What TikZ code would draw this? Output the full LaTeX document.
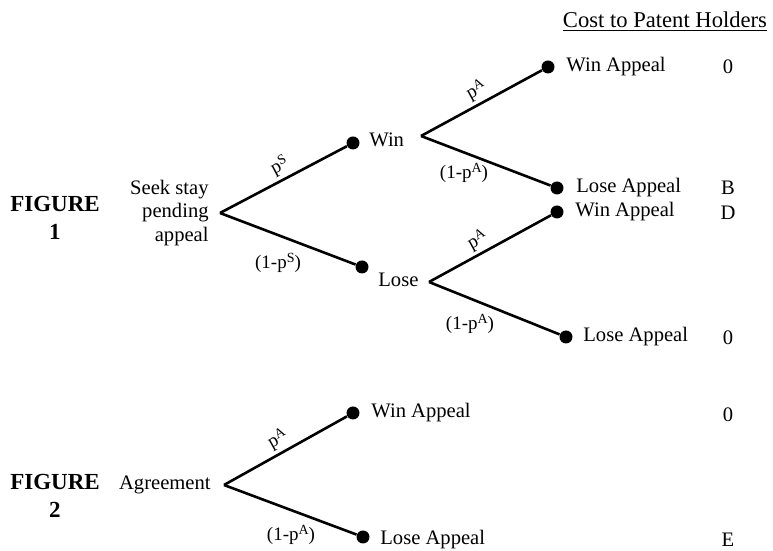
\documentclass[tikz,border=0pt]{standalone}
\usepackage{fontspec}
\setmainfont{Liberation Serif}
\usepackage{tikz}
\usetikzlibrary{positioning,calc}
\newcommand{\upidx}[1]{\raisebox{0.6ex}{\fontsize{7}{8}\selectfont #1}}

\begin{document}
\begin{tikzpicture}[x=0.5pt,y=0.5pt,
    every node/.style={font=\fontsize{10.3}{11.8}\selectfont},
    dot/.style={circle,fill=black,inner sep=0pt,minimum size=6.5pt},
    branch/.style={line width=1.3pt},
    prob/.style={font=\fontsize{9.5}{11}\selectfont,inner sep=1.5pt},
    outcome/.style={anchor=west,inner sep=0pt},
    cost/.style={inner sep=0pt},
    fig/.style={font=\fontsize{11.5}{14.2}\selectfont\bfseries,align=center}]
    \useasboundingbox (0,0) rectangle (773,551);

    % Header
    \node[font=\fontsize{11.3}{13}\selectfont] (head) at (665,529) {\underline{Cost to Patent Holders}};

    % Figure 1: seek a stay
    \node[fig] (fig1) at (55,333) {FIGURE\\1};
    \coordinate (seek) at (220,338);
    \node[align=right,anchor=east,inner sep=0pt] (seektxt) at (209,338) {Seek stay\\pending\\appeal};

    \node[dot] (win) at (353,408) {};
    \node[dot] (lose) at (362,284) {};
    \node[outcome] (wintxt) at (369,411) {Win};
    \node[outcome] (losetxt) at (378,271) {Lose};
    \draw[branch] (seek) -- node[prob,rotate=28,above,pos=0.52] (ps) {p\upidx{S}} (win);
    \draw[branch] (seek) -- (lose);
    \node[prob] (qs) at (278,288) {(1-p\upidx{S})};

    % appeal after a win
    \coordinate (winv) at (421,415);
    \node[dot] (wa1) at (548,484) {};
    \node[dot] (la1) at (557,363) {};
    \node[outcome] (wa1txt) at (566,484) {Win Appeal};
    \node[outcome] (la1txt) at (576,363) {Lose Appeal};
    \draw[branch] (winv) -- node[prob,rotate=28.5,above,pos=0.51] (pa1) {p\upidx{A}} (wa1);
    \draw[branch] (winv) -- (la1);
    \node[prob] (qa1) at (464,378) {(1-p\upidx{A})};

    % appeal after a loss
    \coordinate (losev) at (429,269);
    \node[dot] (wa2) at (557,339) {};
    \node[dot] (la2) at (566,214) {};
    \node[outcome] (wa2txt) at (575,339) {Win Appeal};
    \node[outcome] (la2txt) at (583,214) {Lose Appeal};
    \draw[branch] (losev) -- node[prob,rotate=28.7,above,pos=0.45] (pa2) {p\upidx{A}} (wa2);
    \draw[branch] (losev) -- (la2);
    \node[prob] (qa2) at (470,227) {(1-p\upidx{A})};

    % costs
    \node[cost] (c1) at (728,484) {0};
    \node[cost] (c2) at (728,363) {B};
    \node[cost] (c3) at (728,338) {D};
    \node[cost] (c4) at (728,213) {0};

    % Figure 2: agreement
    \node[fig] (fig2) at (55,55) {FIGURE\\2};
    \coordinate (agr) at (224,66);
    \node[anchor=east,inner sep=0pt] (agrtxt) at (211,66) {Agreement};

    \node[dot] (wa3) at (353,138) {};
    \node[dot] (la3) at (363,14) {};
    \node[outcome] (wa3txt) at (371,138) {Win Appeal};
    \node[outcome] (la3txt) at (380,11) {Lose Appeal};
    \draw[branch] (agr) -- node[prob,rotate=29,above,pos=0.49] (pa3) {p\upidx{A}} (wa3);
    \draw[branch] (agr) -- (la3);
    \node[prob] (qa3) at (291,16) {(1-p\upidx{A})};

    \node[cost] (c5) at (728,136) {0};
    \node[cost] (c6) at (728,11) {E};
\end{tikzpicture}
\end{document}
